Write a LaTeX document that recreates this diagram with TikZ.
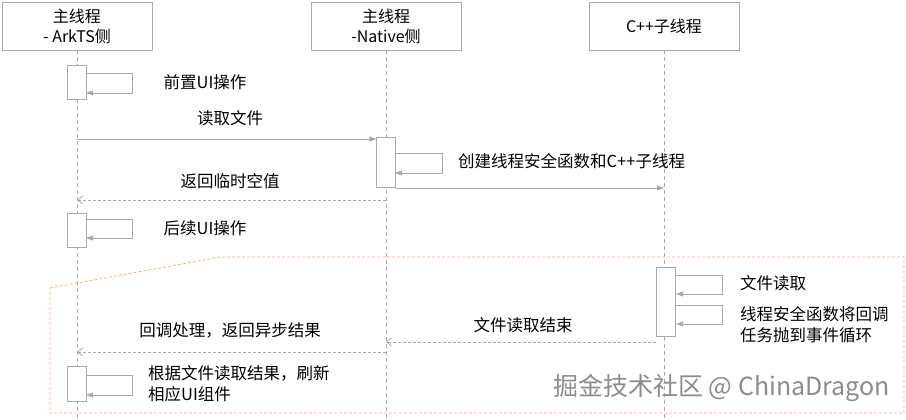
\documentclass[tikz,border=0pt]{standalone}
\usepackage{fontspec}
\setmainfont{Noto Sans CJK SC}
\usetikzlibrary{arrows.meta}
\definecolor{ln}{HTML}{AAAAAA}
\definecolor{org}{HTML}{F0B080}
\begin{document}
\begin{tikzpicture}[x=1pt,y=-1pt,
  hdr/.style={draw=ln,fill=white,minimum width=150pt,minimum height=48pt,font=\fontsize{16}{20}\selectfont,align=center,inner sep=0pt},
  act/.style={draw=ln,fill=white,minimum width=19pt,inner sep=0pt},
  life/.style={draw=ln,dashed,dash pattern=on 4pt off 3pt,line width=0.6pt},
  msg/.style={draw=ln,line width=0.8pt,-{Triangle[length=7pt,width=5pt]}},
  ret/.style={draw=ln,line width=0.8pt,dash pattern=on 3pt off 2pt,-{Straight Barb[length=5pt,width=8pt]}},
  lbl/.style={font=\fontsize{16.5}{21}\selectfont,inner sep=0pt}]
\useasboundingbox (0,0) rectangle (906,420);
\node[hdr] (h1) at (77,26) {主线程\\- ArkTS侧};
\node[hdr] (h2) at (386,26) {主线程\\-Native侧};
\node[hdr] (h3) at (664,26) {C++子线程};
\coordinate (e1) at (77,420);\coordinate (e2) at (386,420);\coordinate (e3) at (664,420);
\draw[life] (h1.south) -- (e1);
\draw[life] (h2.south) -- (e2);
\draw[life] (h3.south) -- (e3);
% orange region
\draw[org,dash pattern=on 3pt off 2pt,line width=0.8pt] (50,288) -- (220,257) -- (904,257) -- (904,413) -- (50,413) -- cycle;
% activations
\node[act,minimum height=34pt] (a1) at (77,82) {};
\node[act,minimum height=50pt] (n1) at (386,162) {};
\node[act,minimum height=34pt] (a2) at (77,230) {};
\node[act,minimum height=69pt] (c1) at (666,302) {};
\node[act,minimum height=35pt] (a3) at (77,384) {};
% self loops
\draw[msg] (86,73) -- (132,73) -- (132,93) -- (86,93);
\node[lbl] (t1) at (205,82) {前置UI操作};
\coordinate (s1) at (77,139);
\draw[msg] (s1) -- (n1.west |- s1);
\node[lbl] (t2) at (230,118) {读取文件};
\draw[msg] (395,153) -- (442,153) -- (442,173) -- (395,173);
\node[lbl,anchor=west] (t3) at (458,161) {创建线程安全函数和C++子线程};
\coordinate (s2) at (395,188);
\draw[msg] (n1.east |- s2) -- (h3.center |- s2);
\coordinate (s3) at (386,200);
\draw[ret] (s3) -- (h1.center |- s3);
\node[lbl] (t4) at (230,181) {返回临时空值};
\draw[msg] (86,219) -- (132,219) -- (132,238) -- (86,238);
\node[lbl] (t5) at (205,228) {后续UI操作};
\draw[msg] (676,275) -- (722,275) -- (722,294) -- (676,294);
\node[lbl,anchor=west] (t6) at (740,283) {文件读取};
\draw[msg] (676,305) -- (722,305) -- (722,324) -- (676,324);
\node[lbl,anchor=west,align=left] (t7) at (740,325) {线程安全函数将回调\\任务抛到事件循环};
\coordinate (s4) at (657,342);
\draw[ret] (c1.west |- s4) -- (h2.center |- s4);
\node[lbl] (t8) at (523,325) {文件读取结束};
\coordinate (s5) at (386,352);
\draw[ret] (s5) -- (h1.center |- s5);
\node[lbl] (t9) at (230,330) {回调处理，返回异步结果};
\draw[msg] (86,375) -- (132,375) -- (132,395) -- (86,395);
\node[lbl,anchor=west,align=left] (t10) at (148,384) {根据文件读取结果，刷新\\相应UI组件};
\node[font=\fontsize{25}{30}\selectfont,text=black!45,anchor=west,inner sep=0pt] (wm) at (553,388) {掘金技术社区 @ ChinaDragon};
\end{tikzpicture}
\end{document}
